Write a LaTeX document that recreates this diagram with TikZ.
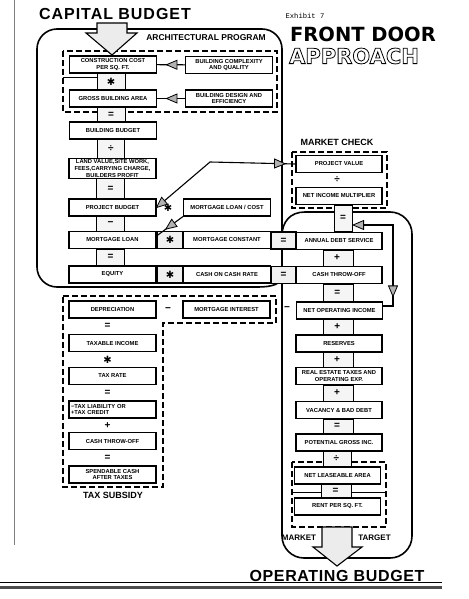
\documentclass[tikz,border=0pt]{standalone}
\usepackage{fontspec}
\setmainfont{Liberation Sans}
\newfontfamily\symfont{DejaVu Sans}
\newfontfamily\heavyfont{DejaVu Sans}
\newfontfamily\typefont{Liberation Mono}
\usetikzlibrary{arrows.meta,calc,decorations.markings}

\newcommand\mulsym{{\symfont ✱}}
\newcommand\opsize{\fontsize{10}{10}\selectfont\bfseries}
\newcommand\hollow[1]{\special{pdf:literal direct 1 Tr 0.8 w}#1\special{pdf:literal direct 0 Tr}}

\tikzset{
  box/.style={draw, line width=1.1pt, fill=white, minimum height=17pt,
    inner sep=1pt, align=center, font=\fontsize{5.8}{6.8}\selectfont\bfseries},
  cell/.style={draw, line width=1.1pt, fill=gray!12, minimum width=26pt,
    minimum height=17pt, inner sep=0pt, font=\opsize},
  op/.style={inner sep=0pt, font=\opsize},
  rung/.style={draw, line width=0.9pt, fill=gray!8},
  lbl/.style={font=\fontsize{8.5}{9}\selectfont\bfseries},
  title/.style={font=\fontsize{16}{16}\selectfont\bfseries\addfontfeatures{LetterSpace=#1}},
  bound/.style={line width=1.6pt},
  dashbox/.style={line width=1.3pt, dash pattern=on 6pt off 3pt},
  bigarrow/.style={line width=1.1pt, fill=gray!15, line join=miter},
  link/.style={line width=1.1pt},
  tipat/.style={postaction={decorate, decoration={markings,
    mark=at position #1 with {\arrow{>}}}}},
  tippair/.style 2 args={postaction={decorate, decoration={markings,
    mark=at position #1 with {\arrow{<}},
    mark=at position #2 with {\arrow{>}}}}},
  paste/.style={line width=0.5pt}
}

\begin{document}
\begin{tikzpicture}[x=1pt, y=-1pt,
    >={Triangle[fill=gray!60, length=12pt, width=10pt, line width=0.8pt]}]
  \useasboundingbox (0,0) rectangle (468,599);

  % page edge and bottom rule
  \draw[gray, line width=0.6pt] (14,0) -- (14,545);
  \draw[line width=0.6pt] (0,582) -- (442,582);
  \draw[gray!60!black, line width=2.4pt] (0,587.5) -- (442,587.5);

  % titles
  \node[title=6] (capt) at (115,14) {CAPITAL BUDGET};
  \node[font=\typefont\fontsize{7.2}{8}\selectfont] (exh) at (305,16) {Exhibit 7};
  \node[font=\heavyfont\bfseries\fontsize{19.5}{19.5}\selectfont] (fd) at (363,34) {FRONT DOOR};
  \node[font=\heavyfont\bfseries\fontsize{21}{21}\selectfont] (apr) at (354,56)
    {\hollow{APPROACH}};
  \node[title=4] (opt) at (337,576) {OPERATING BUDGET};

  % budget outlines
  \draw[bound, rounded corners=20pt] (282,290) -- (282,29) -- (37,29) -- (37,287) -- (258,287);
  \draw[bound] (258,287) .. controls (272,287) and (282,284) .. (282,276);
  \draw[bound, rounded corners=22pt] (282,250) -- (282,558) -- (412,558) -- (412,212) -- (305,212);
  \draw[bound] (305,212) .. controls (290,212) and (282,222) .. (282,236);

  % dashed groups
  \draw[dashbox] (63,51) rectangle (277,112);
  \draw[dashbox] (292,152) rectangle (387,208);
  \draw[dashbox] (292,462) rectangle (386,527);
  \draw[dashbox] (63,296) -- (276,296) -- (276,323) -- (163,323) -- (163,487) -- (63,487) -- cycle;
  \draw[paste] (63,77) -- (97,77);
  \draw[paste] (292,492) -- (322,492) (351,492) -- (386,492);

  % group labels
  \node[lbl] (arch) at (206,38) {ARCHITECTURAL PROGRAM};
  \node[lbl, font=\fontsize{9}{9}\selectfont\bfseries] (mchk) at (337,142) {MARKET CHECK};
  \node[lbl, font=\fontsize{9}{9}\selectfont\bfseries] (tax) at (113,495) {TAX SUBSIDY};
  \node[lbl, font=\fontsize{8}{8}\selectfont\bfseries] (mkt) at (299,538) {MARKET};
  \node[lbl, font=\fontsize{8}{8}\selectfont\bfseries] (tgt) at (374.5,538) {TARGET};

  % capital budget column
  \begin{scope}[every node/.style={box, minimum width=87pt}]
    \node (cc) at (113,64.5) {CONSTRUCTION COST\\PER SQ. FT.};
    \node (gba) at (113,98.5) {GROSS BUILDING AREA};
    \node (bb) at (113,130.5) {BUILDING BUDGET};
    \node (land) at (112.5,168.5) {LAND VALUE,SITE WORK,\\FEES,CARRYING CHARGE,\\BUILDERS PROFIT};
    \node (pb) at (112.5,207.5) {PROJECT BUDGET};
    \node (ml) at (112.5,240) {MORTGAGE LOAN};
    \node (eq) at (112.5,274.5) {EQUITY};
    \node (bcq) at (229,65) {BUILDING COMPLEXITY\\AND QUALITY};
    \node (bde) at (229,98.5) {BUILDING DESIGN AND\\EFFICIENCY};
    \node (mlc) at (227,207.5) {MORTGAGE LOAN / COST};
    \node (mc) at (227,240) {MORTGAGE CONSTANT};
    \node (cocr) at (227,274.5) {CASH ON CASH RATE};
  \end{scope}

  % operating budget column
  \begin{scope}[every node/.style={box, minimum width=86pt}]
    \node (pv) at (339,164) {PROJECT VALUE};
    \node (nim) at (339,196) {NET INCOME MULTIPLIER};
    \node (ads) at (339,241) {ANNUAL DEBT SERVICE};
    \node (cto) at (339,275) {CASH THROW-OFF};
    \node (noi) at (339.5,310.5) {NET OPERATING INCOME};
    \node (res) at (339,343.5) {RESERVES};
    \node (ret) at (339,376) {REAL ESTATE TAXES AND\\OPERATING EXP.};
    \node (vbd) at (339,410) {VACANCY \& BAD DEBT};
    \node (pgi) at (339,442.5) {POTENTIAL GROSS INC.};
    \node (nla) at (337.5,475.5) {NET LEASEABLE AREA};
    \node (rent) at (337.5,506.5) {RENT PER SQ. FT.};
  \end{scope}

  % tax subsidy column
  \begin{scope}[every node/.style={box, minimum width=87pt}]
    \node (dep) at (112.5,309.5) {DEPRECIATION};
    \node (mi) at (226.5,309.5) {MORTGAGE INTEREST};
    \node (ti) at (112.5,343) {TAXABLE INCOME};
    \node (tr) at (112.5,376) {TAX RATE};
    \node[text width=83pt, align=left] (tl) at (112.5,409.5) {−TAX LIABILITY OR\\+TAX CREDIT};
    \node (ct2) at (112.5,441) {CASH THROW-OFF};
    \node (sc) at (112.5,474.5) {SPENDABLE CASH\\AFTER TAXES};
  \end{scope}

  % operator cells
  \begin{scope}[every node/.style={cell}]
    \node (xm) at (170,240) {\mulsym};
    \node (xe) at (170,274.5) {\mulsym};
    \node[minimum width=25pt] (eqA) at (283.5,240.5) {=};
    \node[minimum width=25pt] (eqB) at (283.5,275) {=};
  \end{scope}
  \node[op] (xp) at (168,208) {\mulsym};
  \node[op] (mdep) at (168,309.5) {−};
  \node[op] (mnoi) at (287,309) {−};
  \node[op] (dvpv) at (337,180) {÷};

  % ladders
  \foreach \a/\b/\o in {cc/gba/\mulsym, gba/bb/=, bb/land/÷, land/pb/=, pb/ml/−, ml/eq/=}{
    \draw[rung] ([xshift=-16pt]\a.south) rectangle ([xshift=12pt]\b.north);
    \node[op] at ($(\a.south)!0.5!(\b.north)+(-2,0)$) {\o};
  }
  \foreach \a/\b/\o in {ads/cto/+, cto/noi/=, noi/res/+, res/ret/+, ret/vbd/+, vbd/pgi/=, pgi/nla/÷, nla/rent/=}{
    \draw[rung] ([xshift=-16pt]\a.south) rectangle ([xshift=14pt]\b.north);
    \node[op] at ($(\a.south)!0.5!(\b.north)+(-2,0)$) {\o};
  }
  \foreach \a/\b/\o in {dep/ti/=, ti/tr/\mulsym, tr/tl/=, tl/ct2/+, ct2/sc/=}
    \node[op] at ($(\a.south)!0.5!(\b.north)+(-5,0)$) {\o};
  \draw[rung] (334,205) rectangle (352,231);
  \node[op] (eqm) at (343,218) {=};
  \coordinate (mq) at (352,225);

  % connectors
  \draw[link, tipat=0.7] (bcq) -- (cc);
  \draw[link, tipat=0.7] (bde) -- (gba);
  \draw[link, tippair={0.07}{0.94}] (pb.east) -- (210,162) -- (pv.west);
  \draw[link, tipat=0.68] (mlc.south west) -- ([yshift=-5pt]ml.north east);
  \draw[link, <-, tipat=0.86] (mq) -- (393,225) -- (393,306) -- ([yshift=4.5pt]noi.east);

  % budget arrows
  \draw[bigarrow] (97,23) -- (127,23) -- (127,33) -- (137,33) -- (112,55) -- (86,33) -- (97,33) -- cycle;
  \draw[bigarrow] (322,527) -- (352,527) -- (352,547) -- (362,547) -- (337,566) -- (313,547) -- (322,547) -- cycle;
\end{tikzpicture}
\end{document}
